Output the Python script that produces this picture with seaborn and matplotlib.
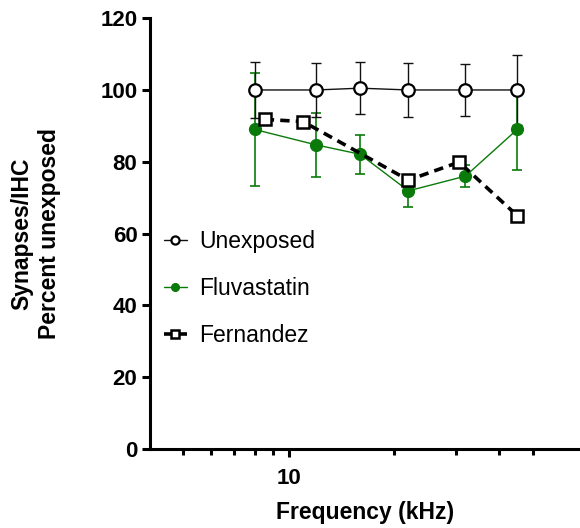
import matplotlib
matplotlib.use("Agg")
import matplotlib.pyplot as plt
import seaborn as sns
import pandas as pd
import numpy as np
from matplotlib.ticker import FixedLocator, NullFormatter

freq = [8, 12, 16, 22, 32, 45]
unexposed = [100, 100, 100.5, 100, 100, 100]
unexposed_err = [7.8, 7.5, 7.3, 7.5, 7.2, 9.7]
fluva = [89, 84.7, 82.1, 71.9, 76.0, 89.0]
fluva_err = [15.8, 9.0, 5.4, 4.4, 3.0, 11.3]
fern_freq = [8.55, 11, 22, 30.7, 45]
fern = [91.8, 91.2, 74.9, 79.9, 65]

major_ticks = [10]
minor_ticks = [5, 6, 7, 8, 9, 20, 30, 40, 50]
yticks = [0, 20, 40, 60, 80, 100, 120]

sns.set_style("ticks")
plt.rcParams['font.family'] = ['Liberation Sans', 'DejaVu Sans']
plt.rcParams['text.color'] = 'black'
plt.rcParams['axes.labelcolor'] = 'black'
plt.rcParams['xtick.color'] = 'black'
plt.rcParams['ytick.color'] = 'black'
plt.rcParams['axes.edgecolor'] = 'black'

fig = plt.figure(figsize=(5.8, 5.28), dpi=100)
ax = fig.add_axes([0.2586, 0.1496, 0.7414, 0.816])

green = '#0a7a0a'

df_u = pd.DataFrame({'f': freq, 'v': unexposed})
df_f = pd.DataFrame({'f': freq, 'v': fluva})
df_n = pd.DataFrame({'f': fern_freq, 'v': fern})

ax.errorbar(freq, fluva, yerr=fluva_err, fmt='none', ecolor=green,
            elinewidth=1.2, capsize=3.5, capthick=1.2, zorder=2)
ax.errorbar(freq, unexposed, yerr=unexposed_err, fmt='none', ecolor='#111111',
            elinewidth=1.0, capsize=3.5, capthick=1.0, zorder=2)

sns.lineplot(data=df_u, x='f', y='v', ax=ax, color='#111111', lw=1.0,
             marker='o', markersize=9, markerfacecolor='white',
             markeredgecolor='black', markeredgewidth=1.6,
             label='Unexposed', zorder=4)
sns.lineplot(data=df_f, x='f', y='v', ax=ax, color=green, lw=1.0,
             marker='o', markersize=8.5, markerfacecolor=green,
             markeredgecolor=green, markeredgewidth=1,
             label='Fluvastatin', zorder=3)
sns.lineplot(data=df_n, x='f', y='v', ax=ax, color='black', lw=2.6,
             linestyle=(0, (2.6, 1.7)),
             marker='s', markersize=8.5, markerfacecolor='white',
             markeredgecolor='black', markeredgewidth=1.8,
             label='Fernandez', zorder=5)

ax.set_xscale('log')
ax.set_xlim(4.02, 68)
ax.set_ylim(0, 120)
ax.xaxis.set_major_locator(FixedLocator(major_ticks))
ax.xaxis.set_minor_locator(FixedLocator(minor_ticks))
ax.xaxis.set_minor_formatter(NullFormatter())
ax.set_xticklabels(['10'])
ax.set_yticks(yticks)

for s in ['top', 'right']:
    ax.spines[s].set_visible(False)
for s in ['left', 'bottom']:
    ax.spines[s].set_linewidth(2.2)
ax.tick_params(axis='both', which='major', length=6, width=2.2,
               labelsize=16, pad=3, colors='black')
ax.tick_params(axis='x', which='major', pad=8)
ax.tick_params(axis='x', which='minor', length=4, width=2.2, colors='black')
for lab in ax.get_xticklabels() + ax.get_yticklabels():
    lab.set_fontweight('bold')

ax.set_xlabel('Frequency (kHz)', fontsize=16.5, fontweight='bold', labelpad=8,
              color='black')
ax.set_ylabel('Synapses/IHC\nPercent unexposed', fontsize=16.5,
              fontweight='bold', labelpad=28, linespacing=1.3, color='black')

leg = ax.legend(loc='upper left', bbox_to_anchor=(-0.005, 0.545), frameon=False,
                fontsize=16.5, markerscale=0.65, handlelength=1.0,
                handletextpad=0.55, labelspacing=1.05, borderaxespad=0.3)
for t in leg.get_texts():
    t.set_color('black')

fig.savefig('out.png', dpi=100)
